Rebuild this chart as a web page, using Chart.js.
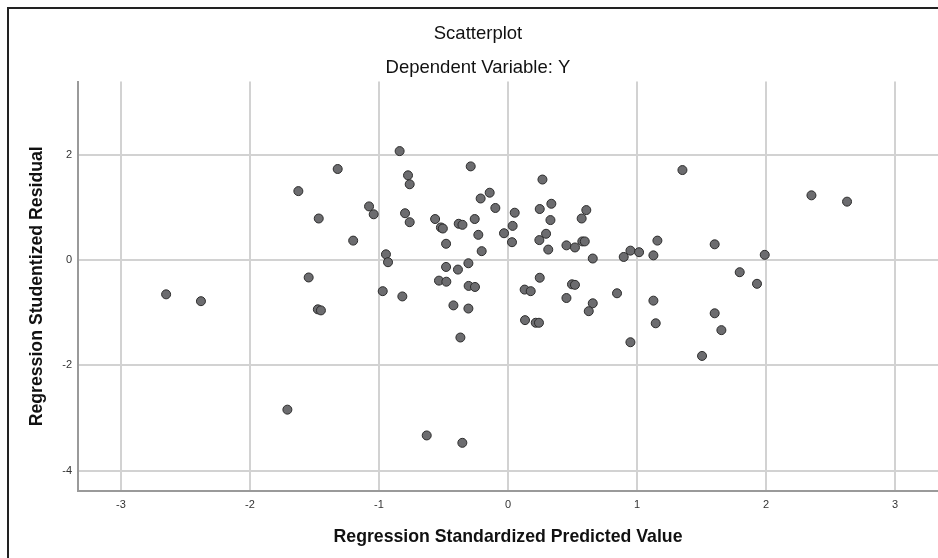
<!DOCTYPE html>
<html>
<head>
<meta charset="utf-8">
<title>Scatterplot</title>
<script src="https://cdn.jsdelivr.net/npm/chart.js@4.4.0/dist/chart.umd.min.js"></script>
<style>
  body { margin: 0; background: #fff; overflow: hidden; }
  #wrap { position: relative; width: 956px; height: 558px; }
  #frame {
    position: absolute; left: 7px; top: 7px; width: 1000px; height: 600px;
    border-left: 2px solid #222; border-top: 2px solid #222;
  }
  canvas { position: absolute; left: 0; top: 0; }
</style>
</head>
<body>
<div id="wrap">
  <div id="frame"></div>
  <canvas id="scatterChart" width="956" height="558"></canvas>
</div>
<script>
// Values
const predicted = [
  -2.65, -2.38, -1.71, -1.625, -1.467, -1.545, -1.474, -1.45, -1.32, -1.2,
  -1.077, -1.041, -0.946, -0.93, -0.971, -0.819, -0.84, -0.775, -0.762, -0.798,
  -0.762, -0.565, -0.52, -0.505, -0.48, -0.289, -0.382, -0.353, -0.258, -0.23,
  -0.204, -0.212, -0.142, -0.098, 0.052, 0.036, -0.031, 0.031, 0.267, 0.246,
  0.336, 0.329, 0.295, 0.243, 0.312, 0.453, 0.519, 0.571, 0.607, 0.576,
  0.595, 0.657, -0.48, -0.388, -0.307, -0.535, -0.478, -0.305, -0.256, 0.246,
  0.129, 0.176, 0.496, 0.519, 0.845, 0.453, 0.657, 0.626, -0.423, -0.307,
  -0.369, 0.132, 0.215, 0.240, -0.63, -0.354, 1.352, 2.352, 2.628, 1.158,
  1.602, 0.949, 1.016, 0.897, 1.127, 1.99, 1.796, 1.93, 1.127, 1.145,
  0.949, 1.602, 1.654, 1.504
];
const residual = [
  -0.65, -0.78, -2.84, 1.31, 0.79, -0.33, -0.935, -0.955, 1.73, 0.37,
  1.02, 0.87, 0.11, -0.04, -0.59, -0.69, 2.07, 1.61, 1.44, 0.89,
  0.72, 0.78, 0.62, 0.60, 0.31, 1.78, 0.69, 0.67, 0.78, 0.48,
  0.17, 1.17, 1.28, 0.99, 0.90, 0.65, 0.51, 0.34, 1.53, 0.97,
  1.07, 0.76, 0.50, 0.38, 0.20, 0.28, 0.24, 0.79, 0.95, 0.355,
  0.355, 0.03, -0.13, -0.18, -0.06, -0.39, -0.41, -0.49, -0.51, -0.335,
  -0.56, -0.59, -0.46, -0.47, -0.63, -0.72, -0.82, -0.97, -0.86, -0.92,
  -1.47, -1.14, -1.19, -1.19, -3.33, -3.47, 1.71, 1.23, 1.11, 0.37,
  0.30, 0.18, 0.15, 0.06, 0.09, 0.10, -0.23, -0.45, -0.77, -1.20,
  -1.56, -1.01, -1.33, -1.82
];
const xTicks = [-3, -2, -1, 0, 1, 2, 3];
const yTicks = [-4, -2, 0, 2];

const points = predicted.map(function (x, i) {
  return { x: x, y: residual[i] };
});

const fontFamily = "'Liberation Sans', Arial, sans-serif";
const gridStyle = { color: '#d2d2d2', lineWidth: 2, drawTicks: false };
const axisBorder = { display: true, color: '#9a9a9a', width: 2 };

const ctx = document.getElementById('scatterChart').getContext('2d');
const scatterChart = new Chart(ctx, {
  type: 'scatter',
  data: {
    datasets: [{
      data: points,
      backgroundColor: '#6c6c6f',
      borderColor: '#2c2c2c',
      borderWidth: 1,
      pointRadius: 4.5,
      pointHoverRadius: 4.5
    }]
  },
  options: {
    responsive: false,
    animation: false,
    // left/right padding equal so the titles centre on the outer frame
    layout: { padding: { left: 18, right: 18, top: 0, bottom: 0 } },
    plugins: {
      legend: { display: false },
      tooltip: { enabled: false },
      title: {
        display: true,
        text: 'Scatterplot',
        color: '#111',
        font: { family: fontFamily, size: 18.5, weight: 'normal' },
        padding: { top: 23, bottom: 11 }
      },
      subtitle: {
        display: true,
        text: 'Dependent Variable: Y',
        color: '#111',
        font: { family: fontFamily, size: 18.5, weight: 'normal' },
        padding: { top: 0.6, bottom: 2.6 }
      }
    },
    scales: {
      x: {
        type: 'linear',
        min: -3.333,
        max: 3.333,
        afterBuildTicks: function (scale) {
          scale.ticks = xTicks.map(function (v) { return { value: v }; });
        },
        afterFit: function (scale) { scale.height = 67; },
        grid: gridStyle,
        border: axisBorder,
        ticks: { padding: 7, color: '#333', font: { family: fontFamily, size: 11 } },
        title: {
          display: true,
          text: 'Regression Standardized Predicted Value',
          color: '#111',
          font: { family: fontFamily, size: 17.7, weight: 'bold' },
          padding: { top: 0, bottom: 10.4 }
        }
      },
      y: {
        type: 'linear',
        min: -4.385,
        max: 3.39,
        afterBuildTicks: function (scale) {
          scale.ticks = yTicks.map(function (v) { return { value: v }; });
        },
        afterFit: function (scale) { scale.width = 60; },
        grid: gridStyle,
        border: axisBorder,
        ticks: { padding: 6, color: '#333', font: { family: fontFamily, size: 11 } },
        title: {
          display: true,
          text: 'Regression Studentized Residual',
          color: '#111',
          font: { family: fontFamily, size: 17.7, weight: 'bold' },
          padding: { top: 8.6, bottom: 0 }
        }
      }
    }
  }
});
</script>
</body>
</html>
